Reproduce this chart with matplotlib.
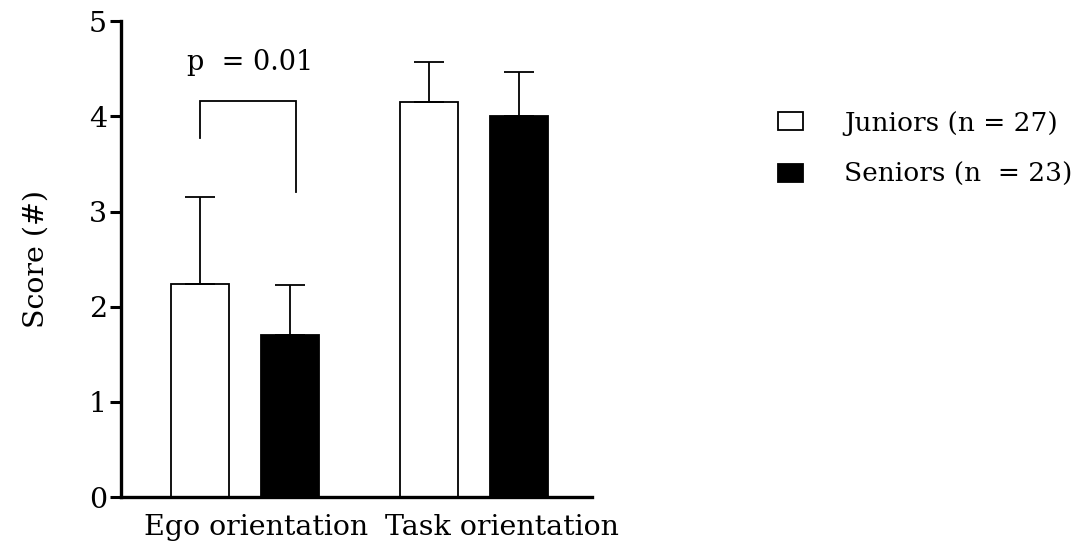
import matplotlib
matplotlib.use("Agg")
import matplotlib.pyplot as plt
import matplotlib.transforms as mtransforms
import numpy as np

categories = ["Ego orientation", "Task orientation"]
series_names = ["Juniors (n = 27)", "Seniors (n  = 23)"]
juniors_mean = [2.24, 4.15]
juniors_sd = [0.91, 0.42]
seniors_mean = [1.70, 4.00]
seniors_sd = [0.53, 0.47]
yticks = [0, 1, 2, 3, 4, 5]
p_label = "p  = 0.01"

plt.rcParams['font.family'] = ['DejaVu Serif']
FS = 20.5
LEG_FS = 19

fig = plt.figure(figsize=(10.88, 5.56), dpi=100)
ax = fig.add_axes([0.111, 0.106, 0.433, 0.856])

x = np.arange(len(categories))
w = 0.253
off = 0.197
err_kw = dict(elinewidth=1.3, capthick=1.3, ecolor="black")
ax.bar(x - off, juniors_mean, w, color="white", edgecolor="black", linewidth=1.3,
       yerr=[np.zeros(2), juniors_sd], capsize=11, error_kw=err_kw,
       label=series_names[0], zorder=2)
ax.bar(x + off, seniors_mean, w, color="black", edgecolor="black", linewidth=1.3,
       yerr=[np.zeros(2), seniors_sd], capsize=11, error_kw=err_kw,
       label=series_names[1], zorder=2)

# significance bracket between the Ego groups
xl, xr = x[0] - off, x[0] + off + 0.025
ax.plot([xl, xl, xr, xr], [3.77, 4.16, 4.16, 3.20], color="black", lw=1.3,
        solid_joinstyle="miter")
ax.text((xl + xr) / 2 + 0.01, 4.57, p_label, ha="center", va="center", fontsize=19.5)

ax.set_xlim(-0.541, 1.515)
ax.set_ylim(0, 5)
ax.set_yticks(yticks)
ax.set_xticks(x)
ax.set_xticklabels(categories, fontsize=FS)
ax.tick_params(axis="x", length=0, pad=12)
ax.tick_params(axis="y", length=8, width=2.2, labelsize=FS, pad=2)
# nudge the category labels to the right
for lab, dx in zip(ax.get_xticklabels(), [8, 20]):
    lab.set_transform(lab.get_transform() +
                      mtransforms.ScaledTranslation(dx / 72, 0, fig.dpi_scale_trans))
for s in ["top", "right"]:
    ax.spines[s].set_visible(False)
for s in ["left", "bottom"]:
    ax.spines[s].set_linewidth(2.4)
ax.set_ylabel("Score (#)", fontsize=FS, labelpad=28)

fig.legend(loc="upper left", bbox_to_anchor=(0.705, 0.82), frameon=False,
           fontsize=LEG_FS, handlelength=0.98, handleheight=0.68,
           handletextpad=1.55, labelspacing=1.0, borderaxespad=0)

fig.savefig("out.png", dpi=100)
